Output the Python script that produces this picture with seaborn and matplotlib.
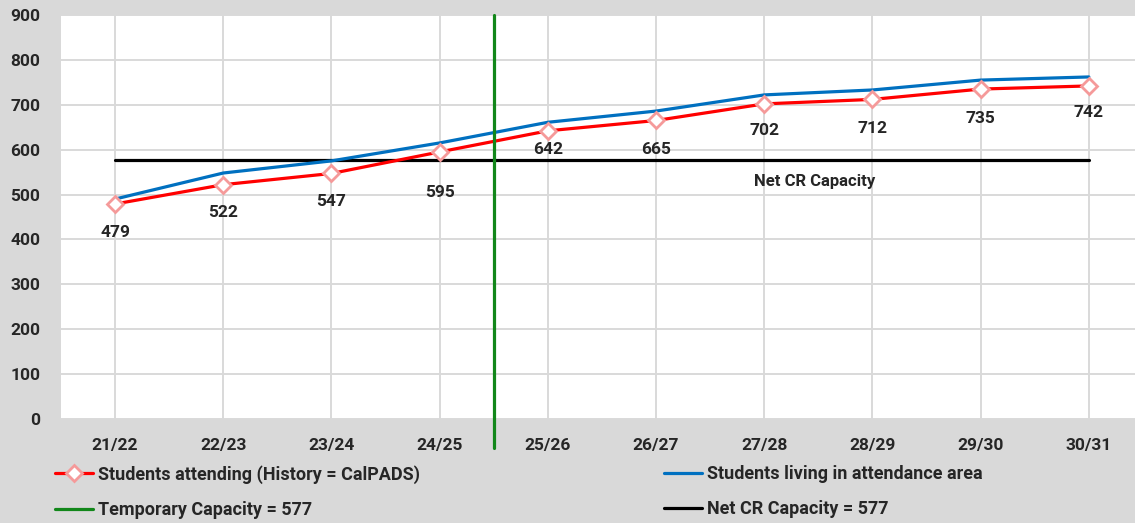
import pandas as pd
import matplotlib
matplotlib.use("Agg")
import matplotlib.pyplot as plt
import seaborn as sns
from matplotlib.lines import Line2D

# chart data
years = ['21/22', '22/23', '23/24', '24/25', '25/26', '26/27', '27/28', '28/29', '29/30', '30/31']
attending = [479, 522, 547, 595, 642, 665, 702, 712, 735, 742]
living = [490, 548, 575, 615, 661, 686, 722, 733, 755, 762]
net_cr_capacity = 577
temp_capacity_pos = 3.5  # between 24/25 and 25/26
y_ticks = [0, 100, 200, 300, 400, 500, 600, 700, 800, 900]
# labels sit under the points, two were nudged by hand in the original
label_offsets = [-29, -28, -28, -41, -19, -29, -27, -29, -29, -27]

sns.set_style("whitegrid")
plt.rcParams['font.family'] = ['Roboto', 'DejaVu Sans']
plt.rcParams['font.weight'] = 'bold'

bg = '#d9d9d9'
df = pd.DataFrame({'Year': years, 'Attending': attending, 'Living': living})

fig = plt.figure(figsize=(11.35, 5.23), dpi=100, facecolor=bg)
ax = fig.add_axes([61 / 1135, 1 - 419 / 523, 1 - 61 / 1135, (419 - 15) / 523])
ax.set_facecolor('white')

# net CR capacity line
ax.plot([0, len(years) - 1], [net_cr_capacity, net_cr_capacity], color='black', lw=2.3, zorder=2)

sns.lineplot(data=df, x='Year', y='Living', ax=ax, color='#0070c0', lw=2.3, sort=False, zorder=3)
sns.lineplot(data=df, x='Year', y='Attending', ax=ax, color='#ff0000', lw=2.3, sort=False, zorder=4,
             marker='D', markersize=8.5, markerfacecolor='white', markeredgecolor='#f59a9a',
             markeredgewidth=2)

# temporary capacity (vertical line)
ax.axvline(temp_capacity_pos, ymin=-0.072, ymax=1, color='#12871a', lw=2.3, clip_on=False, zorder=5)

# data labels
for i, v in enumerate(attending):
    ax.annotate(str(v), (i, v), xytext=(0, label_offsets[i]), textcoords='offset pixels',
                ha='center', va='center', fontsize=12.5, fontweight='bold')

ax.annotate('Net CR Capacity', (6.47, net_cr_capacity), xytext=(0, -22), textcoords='offset pixels',
            ha='center', va='center', fontsize=12, fontweight='bold')

ax.set_xlim(-0.5, (1135 - 116) / 108.1)
ax.set_ylim(0, 900)
ax.set_yticks(y_ticks)
ax.set_xticks(range(len(years)))
ax.set_xticklabels(years)
ax.set_xlabel('')
ax.set_ylabel('')
ax.grid(True, color='#d9d9d9', lw=1.4)
for s in ax.spines.values():
    s.set_visible(False)
ax.tick_params(axis='both', length=0, labelsize=12.5)
ax.tick_params(axis='x', pad=14)
ax.tick_params(axis='y', pad=15)
for lbl in ax.get_xticklabels() + ax.get_yticklabels():
    lbl.set_fontweight('bold')

# legend in two separate columns
red_h = Line2D([], [], color='#ff0000', lw=2.3, marker='D', markersize=8.5,
               markerfacecolor='white', markeredgecolor='#f59a9a', markeredgewidth=2)
green_h = Line2D([], [], color='#12871a', lw=2.3)
blue_h = Line2D([], [], color='#0070c0', lw=2.3)
black_h = Line2D([], [], color='black', lw=2.3)

leg_kw = dict(loc='upper left', frameon=False, fontsize=13, handlelength=2.1,
              handletextpad=0.3, labelspacing=0.95, borderaxespad=0, borderpad=0)
leg1 = fig.legend([red_h, green_h], ['Students attending (History = CalPADS)', 'Temporary Capacity = 577'],
                  bbox_to_anchor=(55 / 1135, 1 - 465 / 523), **leg_kw)
leg2 = fig.legend([blue_h, black_h], ['Students living in attendance area', 'Net CR Capacity = 577'],
                  bbox_to_anchor=(664 / 1135, 1 - 465 / 523), **leg_kw)
for leg in (leg1, leg2):
    for t in leg.get_texts():
        t.set_fontweight('bold')

fig.savefig('out.png', dpi=100, facecolor=bg)
